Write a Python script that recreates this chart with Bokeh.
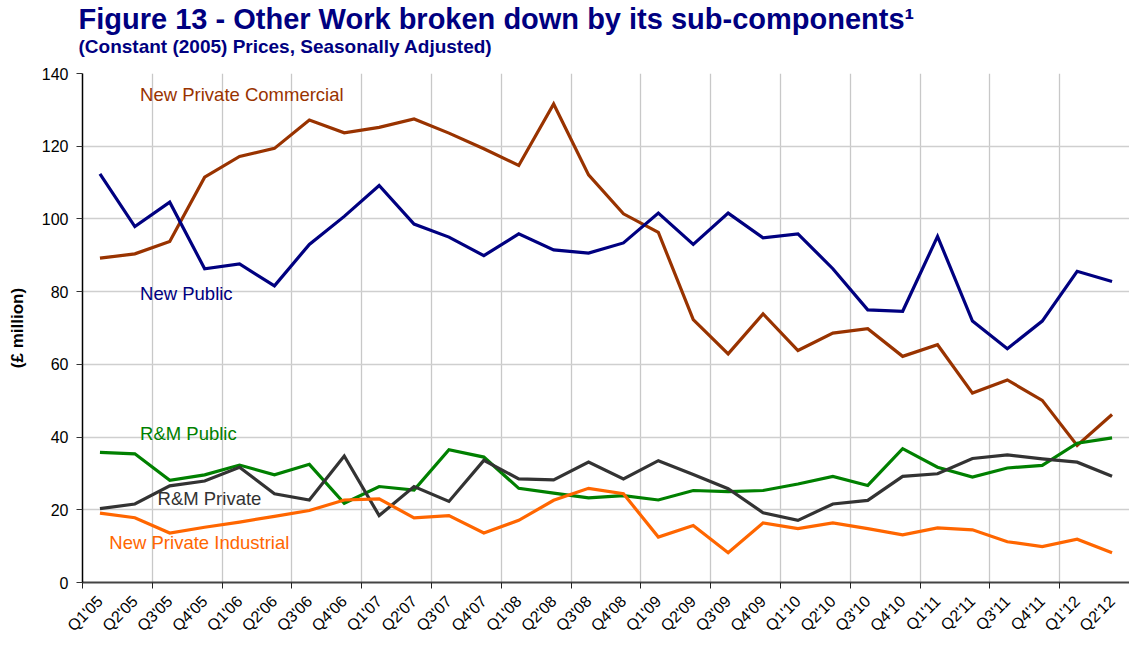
import math
from bokeh.plotting import figure
from bokeh.layouts import column
from bokeh.models import FixedTicker, Label
from bokeh.embed import file_html
from bokeh.resources import INLINE

quarters = ["Q1'05", "Q2'05", "Q3'05", "Q4'05",
            "Q1'06", "Q2'06", "Q3'06", "Q4'06",
            "Q1'07", "Q2'07", "Q3'07", "Q4'07",
            "Q1'08", "Q2'08", "Q3'08", "Q4'08",
            "Q1'09", "Q2'09", "Q3'09", "Q4'09",
            "Q1'10", "Q2'10", "Q3'10", "Q4'10",
            "Q1'11", "Q2'11", "Q3'11", "Q4'11",
            "Q1'12", "Q2'12"]

new_public = [112.4, 97.9, 104.6, 86.3, 87.6, 81.6, 93.0, 100.7, 109.2, 98.6,
              95.0, 89.9, 95.9, 91.5, 90.6, 93.4, 101.6, 93.0, 101.6, 94.8,
              95.9, 86.3, 75.0, 74.6, 95.2, 71.9, 64.3, 71.9, 85.6, 82.8]
new_private_commercial = [89.2, 90.4, 93.8, 111.5, 117.2, 119.4, 127.2, 123.7, 125.2, 127.5,
                          123.6, 119.3, 114.7, 131.6, 112.1, 101.4, 96.3, 72.3, 62.9, 73.9,
                          63.8, 68.6, 69.8, 62.2, 65.4, 52.1, 55.7, 50.1, 37.7, 46.2]
rm_public = [35.8, 35.4, 28.1, 29.6, 32.3, 29.6, 32.5, 21.8, 26.4, 25.4,
             36.5, 34.5, 25.9, 24.6, 23.3, 23.9, 22.7, 25.3, 25.0, 25.3,
             27.1, 29.2, 26.7, 36.8, 31.7, 29.0, 31.5, 32.2, 38.3, 39.8]
rm_private = [20.3, 21.6, 26.6, 27.9, 31.7, 24.4, 22.7, 34.8, 18.4, 26.4,
              22.3, 33.6, 28.5, 28.2, 33.1, 28.5, 33.5, 29.7, 25.8, 19.2,
              17.1, 21.6, 22.6, 29.2, 29.9, 34.1, 35.1, 34.0, 33.1, 29.2]
new_private_industrial = [19.1, 17.8, 13.6, 15.2, 16.6, 18.2, 19.8, 22.7, 23.0, 17.8,
                          18.4, 13.6, 17.1, 22.6, 25.9, 24.4, 12.5, 15.7, 8.2, 16.4,
                          14.8, 16.4, 14.8, 13.1, 15.0, 14.5, 11.2, 9.9, 11.9, 8.2]

series_names = ["New Private Commercial", "New Public", "R&M Public",
                "R&M Private", "New Private Industrial"]
series_colors = ["#993300", "#000080", "#008000", "#333333", "#FF6600"]

title_text = "Figure 13 - Other Work broken down by its sub-components\u00b9"
subtitle_text = "(Constant (2005) Prices, Seasonally Adjusted)"

FONT = "Liberation Sans"
n = len(quarters)
xs = list(range(n))

# ---- heading strip (its own small svg figure) ----
TH = 62
head = figure(width=1129, height=TH, x_range=(0, 1), y_range=(0, 1),
              output_backend="svg", toolbar_location=None,
              x_axis_location=None, y_axis_location=None, min_border=0)
head.frame_align = False
head.outline_line_color = None
head.grid.visible = False
head.add_layout(Label(x=78, y=TH - 18, x_units="screen", y_units="screen",
                      text=title_text, text_color="#000080", text_font=FONT,
                      text_font_size="29px", text_font_style="bold",
                      text_baseline="middle"))
head.add_layout(Label(x=78, y=TH - 46, x_units="screen", y_units="screen",
                      text=subtitle_text, text_color="#000080", text_font=FONT,
                      text_font_size="19px", text_font_style="bold",
                      text_baseline="middle"))

# ---- main chart ----
p = figure(frame_width=1047, frame_height=509,
           x_range=(-0.5, n - 0.5), y_range=(0, 140),
           output_backend="svg", toolbar_location=None,
           min_border_left=82, min_border_right=0,
           min_border_top=73 - TH, min_border_bottom=60)
p.outline_line_color = None
p.background_fill_color = "white"
p.border_fill_color = "white"

# grids
p.xgrid.ticker = FixedTicker(ticks=[1.5 + 2 * k for k in range(n // 2 - 1)])
p.xgrid.grid_line_color = "#c8c8c8"
p.xgrid.grid_line_width = 1.3
p.ygrid.grid_line_color = "#cfcfcf"
p.ygrid.grid_line_width = 1.5

# x axis
p.xaxis.ticker = FixedTicker(ticks=xs, minor_ticks=[-0.5 + 2 * k for k in range(n // 2 + 1)])
p.xaxis.major_label_overrides = {i: q for i, q in enumerate(quarters)}
p.xaxis.major_tick_out = 0
p.xaxis.major_tick_in = 0
p.xaxis.minor_tick_out = 6
p.xaxis.minor_tick_in = 0
p.xaxis.minor_tick_line_color = "#222222"
p.xaxis.axis_line_color = "#444444"
p.xaxis.axis_line_width = 2
p.xaxis.major_label_orientation = math.pi / 4
p.xaxis.major_label_text_font = FONT
p.xaxis.major_label_text_font_size = "16px"
p.xaxis.major_label_text_color = "black"
p.xaxis.major_label_standoff = 10

# y axis
p.yaxis.ticker = FixedTicker(ticks=list(range(0, 141, 20)))
p.yaxis.major_tick_out = 6
p.yaxis.major_tick_in = 0
p.yaxis.minor_tick_line_color = None
p.yaxis.axis_line_color = "black"
p.yaxis.axis_line_width = 1.5
p.yaxis.major_tick_line_color = "#333333"
p.yaxis.major_label_text_font = FONT
p.yaxis.major_label_text_font_size = "16px"
p.yaxis.major_label_text_color = "black"
p.yaxis.major_label_standoff = 8
p.yaxis.axis_label = "(£ million)"
p.yaxis.axis_label_text_font = FONT
p.yaxis.axis_label_text_font_size = "17px"
p.yaxis.axis_label_text_font_style = "bold"
p.yaxis.axis_label_text_color = "black"
p.yaxis.axis_label_standoff = 12

all_series = [new_private_commercial, new_public, rm_public, rm_private, new_private_industrial]
for vals, col in zip(all_series, series_colors):
    p.line(xs, vals, line_color=col, line_width=3.2, line_join="miter")

# series labels (annotation positions in data units)
label_pos = [(1.15, 134.2), (1.15, 79.4), (1.15, 40.9), (1.65, 23.2), (0.27, 11.1)]
for name, col, (lx, ly) in zip(series_names, series_colors, label_pos):
    p.add_layout(Label(x=lx, y=ly, text=name, text_color=col, text_font=FONT,
                       text_font_size="18.5px", text_baseline="middle", text_align="left"))

layout = column(head, p, spacing=0)
open("out.html", "w").write(file_html(layout, INLINE))
